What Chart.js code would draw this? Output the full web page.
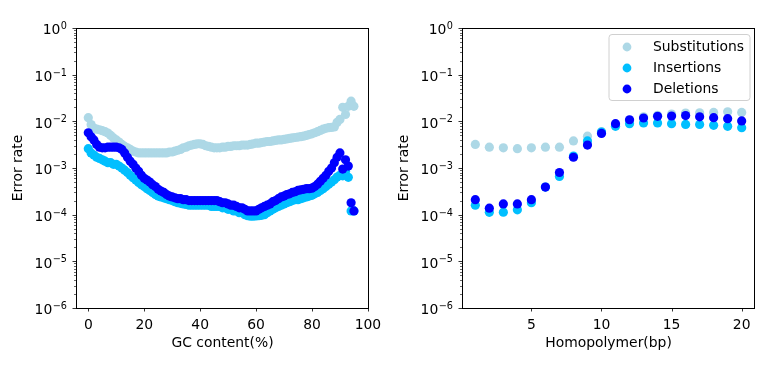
<!DOCTYPE html>
<html><head><meta charset="utf-8">
<script src="https://cdn.jsdelivr.net/npm/chart.js@4/dist/chart.umd.min.js"></script>
<style>
html,body{margin:0;padding:0;background:#fff;}
#wrap{position:relative;width:771px;height:370px;overflow:hidden;}
#c1{position:absolute;left:0;top:0;}
#c2{position:absolute;left:385px;top:0;}
</style></head><body>
<div id="wrap"><canvas id="c1" width="385" height="370"></canvas><canvas id="c2" width="386" height="370"></canvas></div>
<script>
const seriesNames = ['Substitutions', 'Insertions', 'Deletions'];
const seriesColors = ['#ADD8E6', '#00BFFF', '#0000FF'];

const gcContent = [0,1,2,3,4,5,6,7,8,9,10,11,12,13,14,15,16,17,18,19,20,21,22,23,24,25,26,27,28,29,30,31,32,33,34,35,36,37,38,39,40,41,42,43,44,45,46,47,48,49,50,51,52,53,54,55,56,57,58,59,60,61,62,63,64,65,66,67,68,69,70,71,72,73,74,75,76,77,78,79,80,81,82,83,84,85,86,87,88,89,90,91,92,93,94,95];
const gcSubstitutions = [0.012,0.0085,0.0072,0.0068,0.0066,0.0063,0.006,0.0056,0.005,0.0044,
  0.004,0.0036,0.0032,0.0029,0.0027,0.0025,0.0023,0.0022,0.0021,0.0021,
  0.0021,0.0021,0.0021,0.0021,0.0021,0.0021,0.0021,0.0021,0.0021,0.0022,
  0.0022,0.0023,0.0024,0.0025,0.0027,0.0028,0.003,0.0031,0.0032,0.0033,
  0.0033,0.0032,0.003,0.0029,0.0028,0.0027,0.0027,0.0027,0.0028,0.0028,
  0.0029,0.0029,0.003,0.003,0.003,0.0031,0.0031,0.0031,0.0032,0.0033,
  0.0034,0.0034,0.0035,0.0036,0.0037,0.0037,0.0038,0.0039,0.004,0.004,
  0.0041,0.0042,0.0043,0.0044,0.0045,0.0046,0.0047,0.0048,0.005,0.0052,
  0.0054,0.0057,0.006,0.0064,0.0068,0.0071,0.0073,0.0074,0.0076,0.0095,
  0.011,0.02,0.014,0.021,0.027,0.021];
const gcInsertions = [0.0026,0.0021,0.0019,0.0017,0.0016,0.0015,0.0014,0.0013,0.0013,0.0012,
  0.0012,0.0011,0.001,0.0009,0.0008,0.0007,0.00062,0.00055,0.00049,0.00044,
  0.0004,0.00036,0.00033,0.0003,0.00027,0.00025,0.00024,0.00023,0.00022,0.00021,
  0.0002,0.00019,0.00018,0.000175,0.00017,0.000165,0.00016,0.00016,0.00016,0.00016,
  0.00016,0.00016,0.00016,0.00016,0.00015,0.00015,0.00015,0.00015,0.00014,0.00014,
  0.00013,0.00013,0.00012,0.00012,0.00011,0.00011,0.0001,0.000095,0.000093,0.000093,
  0.000094,0.000095,0.000097,0.0001,0.00011,0.00012,0.00013,0.00014,0.00015,0.00016,
  0.00017,0.00018,0.00019,0.0002,0.00021,0.00021,0.00022,0.00023,0.00024,0.00025,
  0.00026,0.00028,0.0003,0.00033,0.00036,0.0004,0.00045,0.0005,0.00056,0.00064,
  0.0007,0.00068,0.00085,0.00063,0.00012,0.00012];
const gcDeletions = [0.0057,0.0047,0.004,0.0032,0.0028,0.0027,0.0027,0.0028,0.0028,0.0028,
  0.0028,0.0027,0.0025,0.0021,0.0017,0.0014,0.0012,0.001,0.00085,0.0007,
  0.0006,0.00055,0.0005,0.00044,0.0004,0.00035,0.00032,0.0003,0.00027,0.00025,
  0.00024,0.00023,0.00022,0.00022,0.00021,0.00021,0.0002,0.0002,0.0002,0.0002,
  0.0002,0.0002,0.0002,0.0002,0.0002,0.0002,0.0002,0.00019,0.00018,0.00018,
  0.00017,0.00016,0.00016,0.00015,0.00014,0.00014,0.00013,0.00012,0.00012,0.00012,
  0.00012,0.00013,0.00014,0.00015,0.00016,0.00017,0.00019,0.0002,0.00022,0.00024,
  0.00025,0.00027,0.00028,0.0003,0.00031,0.00033,0.00034,0.00035,0.00036,0.00036,
  0.00037,0.0004,0.00045,0.00052,0.0006,0.0007,0.00085,0.001,0.0013,0.0017,
  0.0021,0.00095,0.0015,0.0011,0.00018,0.00012];

const hpLength = [1,2,3,4,5,6,7,8,9,10,11,12,13,14,15,16,17,18,19,20];
const hpSubstitutions = [0.0032,0.0028,0.0027,0.0026,0.0027,0.0028,0.0028,0.0038,0.0048,0.006,0.0086,0.0105,0.0125,0.0135,0.0143,0.015,0.0152,0.0155,0.016,0.0155];
const hpInsertions = [0.00016,0.000112,0.000113,0.000127,0.00018,0.00039,0.00066,0.0018,0.0038,0.0059,0.0078,0.0089,0.0092,0.0092,0.0089,0.0086,0.0086,0.0082,0.0078,0.0073];
const hpDeletions = [0.00021,0.000138,0.00017,0.00017,0.00021,0.00039,0.0008,0.0017,0.0031,0.0055,0.0089,0.0108,0.0118,0.0128,0.013,0.0133,0.0125,0.012,0.0114,0.0102];

const yTickValues = [1e-6, 1e-5, 1e-4, 1e-3, 1e-2, 1e-1, 1];
const yTickBase = '10';
const yTickExponents = ['\u22126', '\u22125', '\u22124', '\u22123', '\u22122', '\u22121', '0'];
const gcTickValues = [0, 20, 40, 60, 80, 100];
const gcTickLabels = ['0', '20', '40', '60', '80', '100'];
const hpTickValues = [5, 10, 15, 20];
const hpTickLabels = ['5', '10', '15', '20'];

const FONT = 'DejaVu Sans';
const FS = 13.9;
const FS_EXP = 9.7;

function pts(xs, ys) { return xs.map((x, i) => ({x: x, y: ys[i]})); }

const framePlugin = {
  id: 'frameTicks',
  afterDraw(chart) {
    const ctx = chart.ctx, a = chart.chartArea, xs = chart.scales.x, ys = chart.scales.y;
    ctx.save();
    ctx.strokeStyle = '#000';
    ctx.lineWidth = 0.8;
    ys.ticks.forEach(t => {
      const py = Math.round(ys.getPixelForValue(t.value)) + 0.5;
      ctx.beginPath(); ctx.moveTo(a.left - 3.5, py); ctx.lineTo(a.left, py); ctx.stroke();
    });
    ctx.lineWidth = 0.6;
    for (let k = -6; k < 0; k++) {
      for (let m = 2; m <= 9; m++) {
        const py = Math.round(ys.getPixelForValue(m * Math.pow(10, k))) + 0.5;
        ctx.beginPath(); ctx.moveTo(a.left - 2, py); ctx.lineTo(a.left, py); ctx.stroke();
      }
    }
    ctx.lineWidth = 0.8;
    xs.ticks.forEach(t => {
      const px = Math.round(xs.getPixelForValue(t.value)) + 0.5;
      ctx.beginPath(); ctx.moveTo(px, a.bottom); ctx.lineTo(px, a.bottom + 3.5); ctx.stroke();
    });
    ctx.lineWidth = 1;
    ctx.strokeRect(a.left + 0.5, a.top + 0.5, a.right - a.left - 1, a.bottom - a.top);

    // y tick labels: 10 with superscript exponent, positioned by the y scale
    ctx.fillStyle = '#000';
    ctx.textBaseline = 'alphabetic';
    ctx.textAlign = 'left';
    const rightEdge = a.left - 9.5;
    ys.ticks.forEach((t, i) => {
      const py = ys.getPixelForValue(t.value);
      const exp = yTickExponents[i];
      ctx.font = FS_EXP + 'px "' + FONT + '"';
      const we = ctx.measureText(exp).width;
      ctx.font = FS + 'px "' + FONT + '"';
      const wb = ctx.measureText(yTickBase).width;
      const x0 = rightEdge - we - wb;
      ctx.fillText(yTickBase, x0, py + 6.3);
      ctx.font = FS_EXP + 'px "' + FONT + '"';
      ctx.fillText(exp, x0 + wb + 0.5, py + 1);
    });
    ctx.restore();
  }
};

const legendPlugin = {
  id: 'boxLegend',
  afterDraw(chart, args, opts) {
    if (!opts.show) return;
    const ctx = chart.ctx, a = chart.chartArea;
    const w = 141, h = 66;
    const x = a.right - 5 - w, y = a.top + 6.5;
    const r = 3;
    ctx.save();
    ctx.beginPath();
    ctx.moveTo(x + r, y);
    ctx.lineTo(x + w - r, y); ctx.quadraticCurveTo(x + w, y, x + w, y + r);
    ctx.lineTo(x + w, y + h - r); ctx.quadraticCurveTo(x + w, y + h, x + w - r, y + h);
    ctx.lineTo(x + r, y + h); ctx.quadraticCurveTo(x, y + h, x, y + h - r);
    ctx.lineTo(x, y + r); ctx.quadraticCurveTo(x, y, x + r, y);
    ctx.closePath();
    ctx.fillStyle = 'rgba(255,255,255,0.8)';
    ctx.fill();
    ctx.strokeStyle = '#d0d0d0';
    ctx.lineWidth = 1;
    ctx.stroke();
    ctx.font = FS + 'px "' + FONT + '"';
    ctx.textBaseline = 'middle';
    ctx.textAlign = 'left';
    chart.data.datasets.forEach((ds, i) => {
      const cy = y + 12.5 + i * 21;
      ctx.beginPath();
      ctx.arc(x + 18, cy, 4.4, 0, Math.PI * 2);
      ctx.fillStyle = ds.backgroundColor;
      ctx.fill();
      ctx.fillStyle = '#000';
      ctx.fillText(ds.label, x + 44, cy + 0.5);
    });
    ctx.restore();
  }
};

function makeChart(canvasId, xVals, series, xMin, xMax, xTickValues, xTickLabels, xTitle, yAxisWidth, yTitlePad, showLegend) {
  const datasets = series.map((vals, i) => ({
    label: seriesNames[i],
    data: pts(xVals, vals),
    backgroundColor: seriesColors[i],
    borderColor: seriesColors[i],
    borderWidth: 0,
    pointRadius: 4.6,
    pointHoverRadius: 4.6,
    order: 3 - i
  }));
  return new Chart(document.getElementById(canvasId), {
    type: 'scatter',
    data: { datasets: datasets },
    plugins: [framePlugin, legendPlugin],
    options: {
      responsive: false,
      animation: false,
      events: [],
      layout: { padding: { left: 0, top: 28, right: 16, bottom: 0 } },
      plugins: {
        legend: { display: false },
        tooltip: { enabled: false },
        boxLegend: { show: showLegend }
      },
      scales: {
        x: {
          type: 'linear',
          min: xMin, max: xMax,
          afterBuildTicks: s => { s.ticks = xTickValues.map(v => ({ value: v })); },
          afterFit: s => { s.height = 62; s.paddingLeft = 0; s.paddingRight = 0; },
          grid: { display: false, drawTicks: false },
          border: { display: false },
          ticks: {
            autoSkip: false, maxRotation: 0, padding: 9, color: '#000',
            font: { family: FONT, size: FS },
            callback: (v, i) => xTickLabels[i]
          },
          title: {
            display: true, text: xTitle, color: '#000',
            font: { family: FONT, size: FS },
            padding: { top: 0, bottom: 18.5 }
          }
        },
        y: {
          type: 'logarithmic',
          min: 1e-6, max: 1,
          afterBuildTicks: s => { s.ticks = yTickValues.map(v => ({ value: v })); },
          afterFit: s => { s.width = yAxisWidth; s.paddingTop = 0; s.paddingBottom = 0; },
          grid: { display: false, drawTicks: false },
          border: { display: false },
          ticks: { display: false, autoSkip: false },
          title: {
            display: true, text: 'Error rate', color: '#000',
            font: { family: FONT, size: FS },
            padding: { top: yTitlePad, bottom: 0 }
          }
        }
      }
    }
  });
}

makeChart('c1', gcContent, [gcSubstitutions, gcInsertions, gcDeletions], -4.4, 100.4,
  gcTickValues, gcTickLabels, 'GC content(%)', 76, 9.7, false);
makeChart('c2', hpLength, [hpSubstitutions, hpInsertions, hpDeletions], 0.05, 20.95,
  hpTickValues, hpTickLabels, 'Homopolymer(bp)', 77, 10.7, true);
</script>
</body></html>
